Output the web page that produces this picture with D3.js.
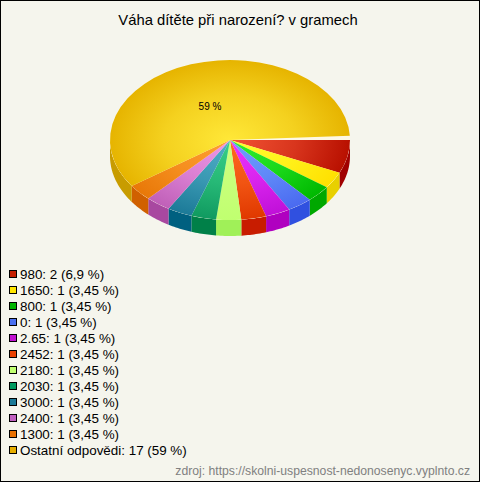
<!DOCTYPE html>
<html>
<head>
<meta charset="utf-8">
<script src="https://cdn.jsdelivr.net/npm/d3@7"></script>
<style>
html, body { margin: 0; padding: 0; background: #f5f5ed; }
svg { display: block; }
text { font-family: "Liberation Sans", Arial, sans-serif; }
</style>
</head>
<body>
<div id="chart"></div>
<script>
const categories = ["980", "1650", "800", "0", "2.65", "2452", "2180", "2030", "3000", "2400", "1300", "Ostatní odpovědi"];
const counts = [2, 1, 1, 1, 1, 1, 1, 1, 1, 1, 1, 17];
const percents = ["6,9", "3,45", "3,45", "3,45", "3,45", "3,45", "3,45", "3,45", "3,45", "3,45", "3,45", "59"];

const legendColors = ["#c41e00", "#ffe600", "#00b400", "#4a70f0", "#c010d0", "#e84000", "#c0ff70", "#009a60", "#1c7a98", "#c060c0", "#e87000", "#e6ae00"];
const innerColors = ["#f25434", "#ffff30", "#30f030", "#70a0ff", "#ec34ff", "#ff6a20", "#ccff80", "#38d088", "#50b0c8", "#f098e8", "#ffa030", "#ffe838"];
const outerColors = ["#b81000", "#ffe000", "#00b800", "#4a6af0", "#c010d8", "#e03800", "#c0ff70", "#109a60", "#1c7a98", "#c060b8", "#e87808", "#e6b400"];
const wallColors = ["#a00000", "#e8d000", "#00a800", "#3050e0", "#b000c0", "#c81c00", "#a0f058", "#008048", "#006080", "#a848a0", "#d06000", "#c89c00"];

const width = 480, height = 482;
const cx = 230, cy = 140, rx = 120, ry = 80, depth = 16;

const svg = d3.select("#chart").append("svg")
    .attr("width", width)
    .attr("height", height);

svg.append("rect")
    .attr("x", 0.5).attr("y", 0.5)
    .attr("width", width - 1).attr("height", height - 1)
    .attr("fill", "#f5f5ed")
    .attr("stroke", "#000");

svg.append("text")
    .attr("x", 238).attr("y", 25)
    .attr("text-anchor", "middle")
    .attr("font-size", 14.8)
    .text("Váha dítěte při narození? v gramech");

// cumulative count -> angle in degrees, clockwise from east
// the big slice is pulled a little wider than the others in the picture
const total = d3.sum(counts);
const angle = d3.scaleLinear()
    .domain([0, total - counts[counts.length - 1], total])
    .range([0, 145, 357]);
const rad = d => d * Math.PI / 180;

const cum = [0, ...d3.cumsum(counts)];
const slices = counts.map((c, i) => ({ i, a0: angle(cum[i]), a1: angle(cum[i + 1]) }));

const xPos = d3.scaleLinear().domain([-1, 1]).range([cx - rx, cx + rx]);
const yPos = d3.scaleLinear().domain([-1, 1]).range([cy - ry, cy + ry]);

const defs = svg.append("defs");
slices.forEach(s => {
    const g = defs.append("radialGradient")
        .attr("id", "face" + s.i)
        .attr("gradientUnits", "userSpaceOnUse")
        .attr("cx", 0).attr("cy", 0).attr("r", rx);
    g.append("stop").attr("offset", "0%").attr("stop-color", innerColors[s.i]);
    g.append("stop").attr("offset", "55%").attr("stop-color", d3.interpolateRgb(innerColors[s.i], outerColors[s.i])(0.45));
    g.append("stop").attr("offset", "100%").attr("stop-color", outerColors[s.i]);
});

// walls, only the front half of the ellipse shows
const wall = d3.area()
    .x(a => xPos(Math.cos(rad(a))))
    .y0(a => yPos(Math.sin(rad(a))) + depth)
    .y1(a => yPos(Math.sin(rad(a))));

svg.append("g").selectAll("path")
    .data(slices.filter(s => s.a0 < 180))
    .join("path")
    .attr("d", s => {
        const end = Math.min(s.a1, 180);
        return wall(d3.range(s.a0, end, 1).concat(end));
    })
    .attr("fill", s => wallColors[s.i]);

// top face, arc drawn round and squashed so the gradients squash with it
const face = svg.append("g")
    .attr("transform", `translate(${cx},${cy}) scale(1,${ry / rx})`);

const arc = d3.arc().innerRadius(0).outerRadius(rx);

face.append("path")
    .attr("d", arc({ startAngle: 0, endAngle: 2 * Math.PI }))
    .attr("fill", "#fdf8e4");

face.selectAll("path.slice")
    .data(slices)
    .join("path")
    .attr("class", "slice")
    .attr("d", s => arc({ startAngle: rad(s.a0 + 90), endAngle: rad(s.a1 + 90) }))
    .attr("fill", s => `url(#face${s.i})`);

svg.append("text")
    .attr("x", 210).attr("y", 110)
    .attr("text-anchor", "middle")
    .attr("font-size", 10)
    .text(percents[percents.length - 1] + " %");

// legend
const legendY = d3.scalePoint()
    .domain(d3.range(categories.length))
    .range([274, 450]);

const row = svg.append("g").selectAll("g")
    .data(categories)
    .join("g")
    .attr("transform", (d, i) => `translate(0,${legendY(i)})`);

row.append("rect")
    .attr("x", 9.5).attr("y", -3.5)
    .attr("width", 7).attr("height", 7)
    .attr("fill", (d, i) => legendColors[i])
    .attr("stroke", "#000");

row.append("text")
    .attr("x", 20).attr("y", 4.5)
    .attr("font-size", 13.4)
    .text((d, i) => `${d}: ${counts[i]} (${percents[i]} %)`);

svg.append("text")
    .attr("x", 470).attr("y", 475)
    .attr("text-anchor", "end")
    .attr("font-size", 12.2)
    .attr("fill", "#808080")
    .text("zdroj: https://skolni-uspesnost-nedonosenyc.vyplnto.cz");
</script>
</body>
</html>
